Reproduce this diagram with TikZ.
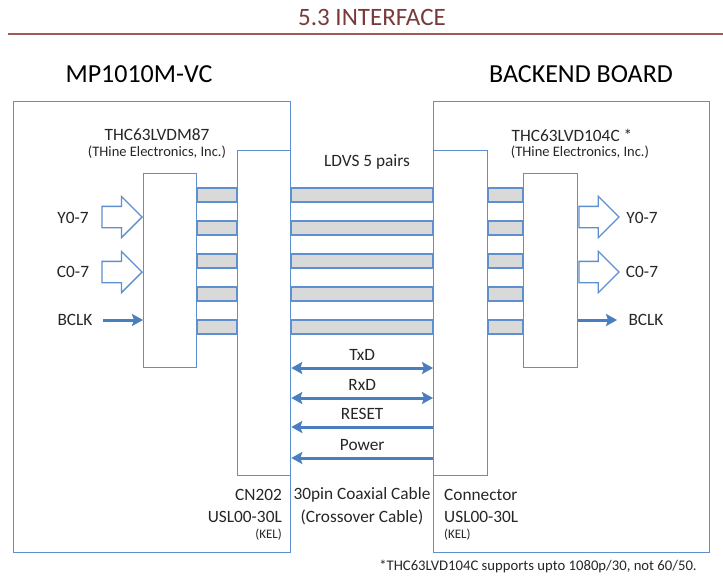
\documentclass[tikz,border=0pt]{standalone}
\usepackage{fontspec}
\setmainfont{Carlito}
\usetikzlibrary{positioning, calc, arrows.meta, shapes.arrows}
\definecolor{BoxBlue}{HTML}{5E8FCF}
\definecolor{SigBlue}{HTML}{4A7EBF}
\definecolor{BarGray}{HTML}{D9D9D9}
\definecolor{TitleRed}{HTML}{7A3A3A}
\definecolor{RuleRed}{HTML}{A05A55}
\definecolor{TextDark}{HTML}{262626}
\tikzset{
    board/.style={rectangle, draw=BoxBlue, line width=1.3pt, inner sep=0pt, anchor=north west},
    bar/.style={draw=BoxBlue, line width=1.3pt, fill=BarGray},
    sig/.style={draw=SigBlue, line width=3pt, -{Stealth[length=11pt, width=12pt, inset=2pt]}},
    blockarrow/.style={single arrow, draw=BoxBlue, line width=1.3pt, fill=white,
        inner xsep=0pt, inner ysep=10pt, minimum height=40pt, single arrow head extend=10pt},
    lbl/.style={font=\fontsize{17.3}{20}\selectfont, text=TextDark, inner sep=0pt},
    sublbl/.style={font=\fontsize{14.5}{17}\selectfont, text=TextDark, inner sep=0pt},
    kel/.style={font=\fontsize{13}{15}\selectfont, text=TextDark, inner sep=0pt},
    headlbl/.style={font=\fontsize{26}{30}\selectfont, text=black, inner sep=0pt},
}
\begin{document}
\begin{tikzpicture}[x=1pt, y=-1pt]
\useasboundingbox (0,0) rectangle (723,579);

% title
\node[font=\fontsize{25}{29}\selectfont, text=TitleRed, inner sep=0pt] (title) at (372,17) {5.3 INTERFACE};
\coordinate (ruleA) at (8,34);
\coordinate (ruleB) at (723,34);
\draw[RuleRed, line width=2pt] (ruleA) -- (ruleB);

% boards
\node[headlbl] (hdL) at (139,74) {MP1010M-VC};
\node[headlbl] (hdR) at (581,74) {BACKEND BOARD};
\node[board, minimum width=277, minimum height=451] (boardL) at (13,101) {};
\node[board, minimum width=276, minimum height=451] (boardR) at (433,101) {};

% connectors and chips
\node[board, minimum width=53, minimum height=325] (cnL) at (237,150) {};
\node[board, minimum width=54, minimum height=325] (cnR) at (433,150) {};
\node[board, minimum width=53, minimum height=194] (chipL) at (143,173) {};
\node[board, minimum width=54, minimum height=194] (chipR) at (523,173) {};

\node[lbl] (chipLname) at (157,135) {THC63LVDM87};
\node[sublbl] (chipLmaker) at (157,152) {(THine Electronics, Inc.)};
\node[lbl] (chipRname) at (572,135) {THC63LVD104C *};
\node[sublbl] (chipRmaker) at (580,152) {(THine Electronics, Inc.)};

% LVDS pairs
\node[lbl] (lvds) at (367,162) {LDVS 5 pairs};
\foreach \y in {188,221,254,287,320} {
    \draw[bar] (chipL.east |- 0,\y) rectangle (cnL.west |- 0,\y+14);
    \draw[bar] (cnL.east |- 0,\y) rectangle (cnR.west |- 0,\y+14);
    \draw[bar] (cnR.east |- 0,\y) rectangle (chipR.west |- 0,\y+14);
}

% video inputs
\node[lbl] (yL) at (73,218) {Y0-7};
\node[lbl] (cL) at (73,272) {C0-7};
\node[lbl] (bclkL) at (75,320) {BCLK};
\node[blockarrow, anchor=tip] (yinL) at (chipL.west |- 0,217) {};
\node[blockarrow, anchor=tip] (cinL) at (chipL.west |- 0,272) {};
\coordinate (bclkLin) at (103,320);
\draw[sig] (bclkLin) -- (chipL.west |- bclkLin);

% video outputs
\node[lbl] (yR) at (642,218) {Y0-7};
\node[lbl] (cR) at (642,272) {C0-7};
\node[lbl] (bclkR) at (646,320) {BCLK};
\node[blockarrow, anchor=tail] (youtR) at (chipR.east |- 0,217) {};
\node[blockarrow, anchor=tail] (coutR) at (chipR.east |- 0,272) {};
\coordinate (bclkRout) at (617,320);
\draw[sig] (chipR.east |- bclkRout) -- (bclkRout);

% control lines
\draw[sig, {Stealth[length=11pt, width=12pt, inset=2pt]}-{Stealth[length=11pt, width=12pt, inset=2pt]}]
    (cnL.east |- 0,368) -- node[lbl, midway, above=6pt] (txd) {TxD} (cnR.west |- 0,368);
\draw[sig, {Stealth[length=11pt, width=12pt, inset=2pt]}-{Stealth[length=11pt, width=12pt, inset=2pt]}]
    (cnL.east |- 0,398) -- node[lbl, midway, above=6pt] (rxd) {RxD} (cnR.west |- 0,398);
\draw[sig] (cnR.west |- 0,427) -- node[lbl, midway, above=6pt] (reset) {RESET} (cnL.east |- 0,427);
\draw[sig] (cnR.west |- 0,458) -- node[lbl, midway, above=6pt] (power) {Power} (cnL.east |- 0,458);

% bottom labels
\node[lbl, anchor=east] (cnLname) at (282,495) {CN202};
\node[lbl, anchor=east] (cnLpart) at (282,517) {USL00-30L};
\node[kel, anchor=east] (cnLmaker) at (282,535) {(KEL)};
\node[lbl] (cable) at (362,495) {30pin Coaxial Cable};
\node[lbl] (cross) at (362,517) {(Crossover Cable)};
\node[lbl, anchor=west] (cnRname) at (444,495) {Connector};
\node[lbl, anchor=west] (cnRpart) at (444,517) {USL00-30L};
\node[kel, anchor=west] (cnRmaker) at (444,535) {(KEL)};

\node[font=\fontsize{14.7}{17}\selectfont, text=TextDark, inner sep=0pt] (note) at (538,566) {*THC63LVD104C supports upto 1080p/30, not 60/50.};
\end{tikzpicture}
\end{document}
